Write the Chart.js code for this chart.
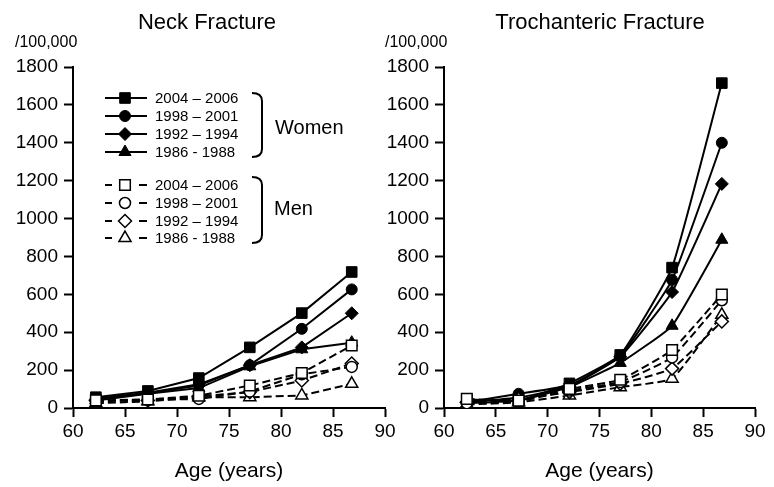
<!DOCTYPE html>
<html><head><meta charset="utf-8">
<script src="https://cdn.jsdelivr.net/npm/chart.js@4"></script>
<style>
html,body{margin:0;padding:0;background:#fff;}
#wrap{position:relative;width:774px;height:487px;overflow:hidden;background:#fff;}
canvas{position:absolute;top:0;}
</style></head><body>
<div id="wrap">
<canvas id="c1" width="414" height="487" style="left:0;width:414px;height:487px"></canvas>
<canvas id="c2" width="394" height="487" style="left:380px;width:394px;height:487px"></canvas>
</div>
<script>
// ---- data ----
const ages = [62.2, 67.2, 72.1, 77, 82, 86.8];
const periods = ['2004 – 2006', '1998 – 2001', '1992 – 1994', '1986 - 1988'];
const xTicks = [60, 65, 70, 75, 80, 85, 90];
const yTicks = [0, 200, 400, 600, 800, 1000, 1200, 1400, 1600, 1800];

// Neck fracture
const neckWomen2004 = [57, 90, 158, 320, 501, 718];
const neckWomen1998 = [50, 80, 125, 226, 418, 626];
const neckWomen1992 = [45, 78, 118, 226, 320, 500];
const neckWomen1986 = [40, 75, 105, 220, 310, 345];
const neckMen2004 = [40, 45, 65, 119, 185, 330];
const neckMen1998 = [35, 42, 48, 87, 178, 217];
const neckMen1992 = [40, 40, 62, 84, 145, 235];
const neckMen1986 = [25, 35, 57, 57, 66, 128];

// Trochanteric fracture
const trochWomen2004 = [45, 38, 130, 280, 741, 1715];
const trochWomen1998 = [30, 75, 120, 274, 676, 1400];
const trochWomen1992 = [30, 55, 115, 270, 612, 1183];
const trochWomen1986 = [25, 40, 110, 238, 434, 888];
const trochMen2004 = [48, 39, 101, 149, 306, 599];
const trochMen1998 = [25, 35, 92, 137, 267, 569];
const trochMen1992 = [30, 48, 84, 128, 208, 457];
const trochMen1986 = [18, 30, 66, 110, 155, 492];

// ---- styles ----
const FAMILY = '"Liberation Sans", Arial, Helvetica, sans-serif';
Chart.defaults.font.family = FAMILY;
Chart.defaults.color = '#000';
const shapes = ['rect', 'circle', 'rectRot', 'triangle'];
const radii = [7.5, 5.5, 6.5, 7];

function pts(vals) { return ages.map((a, i) => ({x: a, y: vals[i]})); }

function buildDatasets(women, men, tension) {
  const ds = [];
  men.forEach((v, i) => ds.push({
    label: 'Men ' + periods[i], data: pts(v),
    borderColor: '#000', borderWidth: 2, borderDash: [8, 4], tension: tension,
    pointStyle: shapes[i], pointRadius: radii[i], pointBackgroundColor: '#fff',
    pointBorderColor: '#000', pointBorderWidth: 1.5
  }));
  women.forEach((v, i) => ds.push({
    label: 'Women ' + periods[i], data: pts(v),
    borderColor: '#000', borderWidth: 2, tension: tension,
    pointStyle: shapes[i], pointRadius: radii[i], pointBackgroundColor: '#000',
    pointBorderColor: '#000', pointBorderWidth: 1
  }));
  return ds;
}

function marker(ctx, style, r, x, y, fill) {
  ctx.save();
  ctx.fillStyle = fill; ctx.strokeStyle = '#000';
  ctx.lineWidth = fill === '#fff' ? 1.5 : 1;
  ctx.setLineDash([]);
  if (Chart.helpers && Chart.helpers.drawPoint) {
    Chart.helpers.drawPoint(ctx, {pointStyle: style, radius: r, rotation: 0, borderWidth: ctx.lineWidth}, x, y);
  } else {
    ctx.beginPath(); ctx.arc(x, y, r, 0, Math.PI * 2); ctx.fill(); ctx.stroke();
  }
  ctx.restore();
}

function bracket(ctx, x0, y0, y1) {
  ctx.beginPath();
  ctx.moveTo(x0, y0);
  ctx.quadraticCurveTo(x0 + 10, y0, x0 + 10, y0 + 8);
  ctx.lineTo(x0 + 10, y1 - 8);
  ctx.quadraticCurveTo(x0 + 10, y1, x0, y1);
  ctx.stroke();
}

function drawLegend(ctx) {
  ctx.save();
  ctx.strokeStyle = '#000'; ctx.lineWidth = 2;
  ctx.textBaseline = 'middle'; ctx.textAlign = 'left';
  const wy = [98, 116, 134, 152];
  const my = [185, 203, 221, 238];
  periods.forEach((p, i) => {
    const y = wy[i];
    ctx.beginPath(); ctx.moveTo(105, y); ctx.lineTo(147, y); ctx.stroke();
    marker(ctx, shapes[i], radii[i], 125, y, '#000');
    ctx.fillStyle = '#000'; ctx.font = '15px ' + FAMILY;
    ctx.fillText(p, 155, y + 1);
  });
  periods.forEach((p, i) => {
    const y = my[i];
    ctx.beginPath(); ctx.moveTo(105, y); ctx.lineTo(112, y); ctx.moveTo(139, y); ctx.lineTo(147, y); ctx.stroke();
    marker(ctx, shapes[i], radii[i], 125, y, '#fff');
    ctx.fillStyle = '#000'; ctx.font = '15px ' + FAMILY;
    ctx.fillText(p, 155, y + 1);
  });
  ctx.lineWidth = 2;
  bracket(ctx, 252, 93, 157);
  bracket(ctx, 252, 177, 243);
  ctx.font = '20px ' + FAMILY; ctx.fillStyle = '#000';
  ctx.fillText('Women', 275, 128);
  ctx.fillText('Men', 274, 209);
  ctx.restore();
}

const annot = {
  id: 'annot',
  afterDraw(chart, args, opts) {
    const ctx = chart.ctx;
    ctx.save();
    ctx.fillStyle = '#000'; ctx.textBaseline = 'middle';
    ctx.font = '22px ' + FAMILY; ctx.textAlign = 'center';
    ctx.fillText(opts.title, opts.titleX, 23);
    ctx.font = '16px ' + FAMILY; ctx.textAlign = 'left';
    ctx.fillText('/100,000', opts.unitX, 43);
    ctx.restore();
    if (opts.legend) drawLegend(ctx);
  }
};

function axisCommon() {
  return {
    grid: {drawOnChartArea: false, drawTicks: true, tickLength: 9, tickWidth: 2, tickColor: '#000'},
    border: {display: true, color: '#000', width: 2}
  };
}

function makeChart(id, title, women, men, opt) {
  return new Chart(document.getElementById(id), {
    type: 'line',
    data: {datasets: buildDatasets(women, men, opt.tension)},
    plugins: [annot],
    options: {
      responsive: false, animation: false, events: [],
      layout: {padding: {left: 0, top: 67, right: opt.padRight, bottom: 0}},
      plugins: {
        legend: {display: false}, tooltip: {enabled: false},
        annot: {title: title, titleX: opt.titleX, unitX: opt.unitX, legend: opt.legend}
      },
      scales: {
        x: Object.assign(axisCommon(), {
          type: 'linear', min: xTicks[0], max: xTicks[xTicks.length - 1],
          afterBuildTicks(s) { s.ticks = xTicks.map(v => ({value: v})); },
          ticks: {color: '#000', font: {size: 19}, padding: 3, maxRotation: 0, autoSkip: false,
                  callback: v => String(v)},
          title: {display: true, text: 'Age (years)', color: '#000', font: {size: 21}, padding: {top: 0, bottom: 3}},
          afterFit(s) { s.height = 79; }
        }),
        y: Object.assign(axisCommon(), {
          type: 'linear', min: yTicks[0], max: yTicks[yTicks.length - 1],
          afterBuildTicks(s) { s.ticks = yTicks.map(v => ({value: v})); },
          ticks: {color: '#000', font: {size: 19}, padding: 6, autoSkip: false,
                  callback: v => String(v)},
          afterFit(s) { s.width = opt.yWidth; }
        })
      }
    }
  });
}

makeChart('c1', 'Neck Fracture',
  [neckWomen2004, neckWomen1998, neckWomen1992, neckWomen1986],
  [neckMen2004, neckMen1998, neckMen1992, neckMen1986],
  {tension: 0, padRight: 29, yWidth: 73, titleX: 207, unitX: 15, legend: true});

makeChart('c2', 'Trochanteric Fracture',
  [trochWomen2004, trochWomen1998, trochWomen1992, trochWomen1986],
  [trochMen2004, trochMen1998, trochMen1992, trochMen1986],
  {tension: 0.12, padRight: 19, yWidth: 64, titleX: 220, unitX: 5, legend: false});
</script>
</body></html>
